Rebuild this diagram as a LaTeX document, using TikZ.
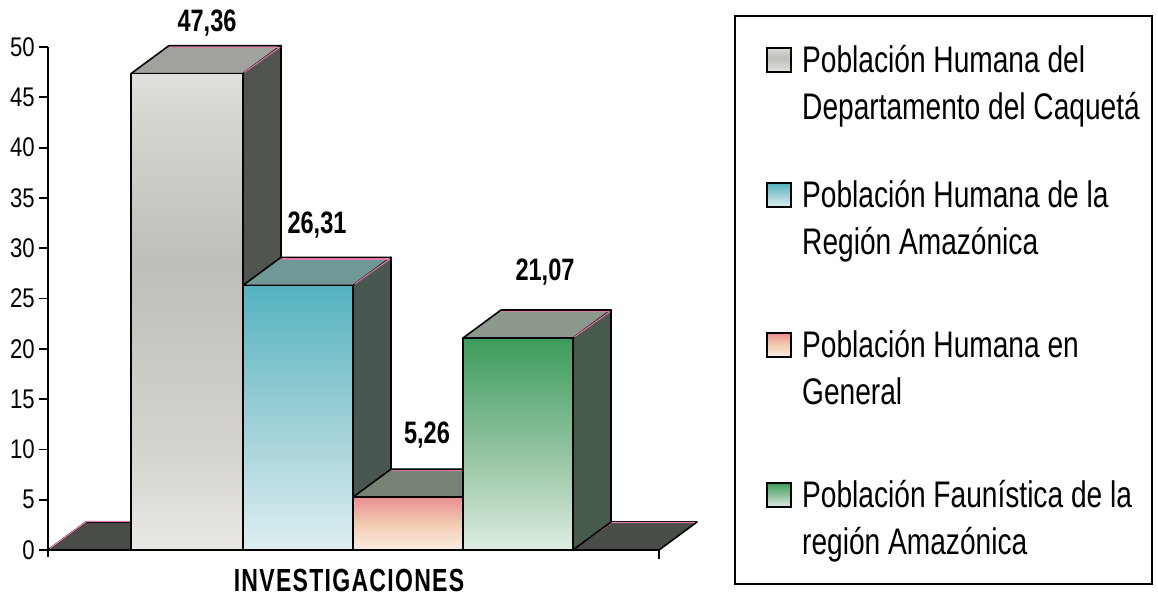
\documentclass[tikz,border=0pt]{standalone}
\usepackage{fontspec}
\setmainfont{Liberation Sans}
\newfontfamily\legfont{Liberation Sans}[FakeStretch=0.76]
\newfontfamily\tickfont{Liberation Sans}[FakeStretch=0.82]
\newfontfamily\valfont{Liberation Sans}[FakeStretch=0.76]
\newfontfamily\axfont{Liberation Sans}[FakeStretch=0.72,LetterSpace=4]
\definecolor{sideA}{RGB}{80,86,79}
\definecolor{sideB}{RGB}{72,88,80}
\definecolor{sideC}{RGB}{76,84,76}
\definecolor{sideD}{RGB}{72,90,76}
\definecolor{topA}{RGB}{160,162,158}
\definecolor{topB}{RGB}{112,152,150}
\definecolor{topC}{RGB}{118,130,116}
\definecolor{topD}{RGB}{140,152,140}
\definecolor{floorg}{RGB}{72,77,72}
\definecolor{pinkedge}{RGB}{228,120,170}
\definecolor{gA1}{RGB}{190,190,186}
\definecolor{gA2}{RGB}{214,212,206}
\definecolor{gA3}{RGB}{246,246,246}
\definecolor{gB1}{RGB}{156,207,214}
\definecolor{gB2}{RGB}{69,173,188}
\definecolor{gB3}{RGB}{58,166,182}
\definecolor{gC1}{RGB}{242,204,176}
\definecolor{gC2}{RGB}{232,130,140}
\definecolor{gC3}{RGB}{222,90,110}
\definecolor{gD1}{RGB}{156,200,168}
\definecolor{gD2}{RGB}{60,156,92}
\definecolor{gD3}{RGB}{40,140,78}
\pgfdeclareverticalshading{shA}{100bp}{color(0bp)=(white); color(14bp)=(white); color(35bp)=(gA2); color(55bp)=(gA1); color(70bp)=(gA2); color(84bp)=(gA3); color(100bp)=(white)}
\pgfdeclareverticalshading{shB}{100bp}{color(0bp)=(white); color(12bp)=(white); color(50bp)=(gB1); color(80bp)=(gB2); color(100bp)=(gB3)}
\pgfdeclareverticalshading{shC}{100bp}{color(0bp)=(white); color(15bp)=(white!90!gC1); color(50bp)=(gC1); color(80bp)=(gC2); color(100bp)=(gC3)}
\pgfdeclareverticalshading{shD}{100bp}{color(0bp)=(white); color(15bp)=(white); color(45bp)=(gD1); color(75bp)=(gD2); color(100bp)=(gD3)}
\tikzset{
  edge/.style={draw=black, line width=1.6pt, line join=round},
  pinkline/.style={draw=pinkedge, line width=1.2pt},
  ticklab/.style={font=\tickfont\fontsize{27}{30}\selectfont, inner sep=0pt},
  vallab/.style={font=\valfont\bfseries\fontsize{31}{34}\selectfont, inner sep=0pt},
  legtext/.style={font=\legfont\fontsize{37}{40}\selectfont, inner sep=0pt, anchor=base west},
  legsq/.style={draw=black, line width=1.4pt}
}
\newcommand\mybar[6]{%
  \filldraw[edge, fill=#6] (#2,550) -- ({#2+38},522) -- ({#2+38},{#3-28}) -- (#2,#3) -- cycle;
  \filldraw[edge, fill=#5] (#1,#3) -- ({#1+38},{#3-28}) -- ({#2+38},{#3-28}) -- (#2,#3) -- cycle;
  \draw[pinkline] ({#1+39},{#3-26.3}) -- ({#2+36},{#3-26.3});
  \draw[pinkline] ({#2+1.5},{#3-1}) -- ({#2+37},{#3-26.5});
  \shade[shading=#4] (#1,#3) rectangle (#2,550);
  \draw[edge] (#1,#3) rectangle (#2,550);
}
\begin{document}
\begin{tikzpicture}[x=1pt,y=-1pt]
\useasboundingbox (0,0) rectangle (1158,598);
\fill[white] (0,0) rectangle (1158,598);
% left floor
\filldraw[edge, fill=floorg] (48,550) -- (86,522) -- (131,522) -- (131,550) -- cycle;
\draw[pinkline] (50,548.5) -- (86.5,521.5) -- (131,521.5);
% right floor
\filldraw[edge, fill=floorg] (573,550) -- (659,550) -- (697,522) -- (611,522) -- cycle;
\draw[pinkline] (576,548) -- (611.5,522.5) -- (695,522.5);
% bars
\mybar{131}{243}{73.6}{shA}{topA}{sideA}
\mybar{243}{353}{285.3}{shB}{topB}{sideB}
\mybar{353}{463}{497.1}{shC}{topC}{sideC}
\mybar{463}{573}{338}{shD}{topD}{sideD}
% axes
\coordinate (ytop) at (48,47);
\coordinate (ybot) at (48,557);
\coordinate (xl) at (48,550);
\coordinate (xr) at (659,550);
\coordinate (xrt) at (659,559);
\draw[line width=2pt] (ytop) -- (ybot);
\draw[line width=2pt] (xl) -- (xr) -- (xrt);
\foreach \v in {0,5,...,50}{
  \coordinate (tk\v) at (48,{550-10.06*\v});
  \coordinate (tl\v) at (39,{550-10.06*\v});
  \draw[line width=1.8pt] (tk\v) -- (tl\v);
  \node[ticklab, anchor=east] (t\v) at (35,{550-10.06*\v}) {\v};
}
% value labels
\node[vallab] (v1) at (207,23) {47,36};
\node[vallab] (v2) at (317,225) {26,31};
\node[vallab] (v3) at (427,435) {5,26};
\node[vallab] (v4) at (545,272) {21,07};
\node[font=\axfont\bfseries\fontsize{32}{35}\selectfont, inner sep=0pt] (xt) at (349,580) {INVESTIGACIONES};
% legend
\draw[line width=1.5pt] (735,16) rectangle (1152,584);
\shade[shading=shA] (767,48) rectangle (791,72); \draw[legsq] (767,48) rectangle (791,72);
\node[legtext] (l1a) at (802,72) {Población Humana del};
\node[legtext] (l1b) at (802,119) {Departamento del Caquetá};
\shade[shading=shB] (767,183) rectangle (791,207); \draw[legsq] (767,183) rectangle (791,207);
\node[legtext] (l2a) at (802,207) {Población Humana de la};
\node[legtext] (l2b) at (802,254) {Región Amazónica};
\shade[shading=shC] (767,333) rectangle (791,357); \draw[legsq] (767,333) rectangle (791,357);
\node[legtext] (l3a) at (802,357) {Población Humana en};
\node[legtext] (l3b) at (802,404) {General};
\shade[shading=shD] (767,483) rectangle (791,507); \draw[legsq] (767,483) rectangle (791,507);
\node[legtext] (l4a) at (802,507) {Población Faunística de la};
\node[legtext] (l4b) at (802,554) {región Amazónica};
\end{tikzpicture}
\end{document}
